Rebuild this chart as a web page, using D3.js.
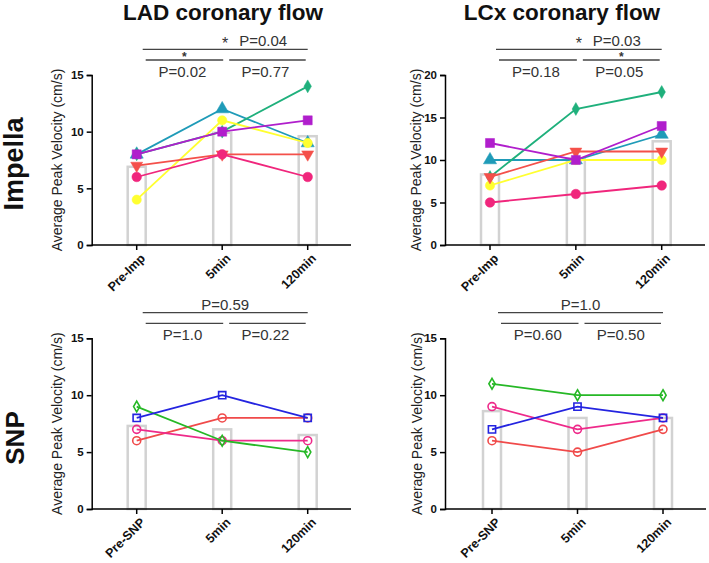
<!DOCTYPE html>
<html>
<head>
<meta charset="utf-8">
<script src="https://cdn.jsdelivr.net/npm/d3@7"></script>
<style>
  body { margin: 0; background: #fff; }
  svg { display: block; font-family: "Liberation Sans", Arial, sans-serif; }
</style>
</head>
<body>
<svg id="chart" width="709" height="563"></svg>
<script>
// ---- data ----
const impCategories = ['Pre-Imp', '5min', '120min'];
const snpCategories = ['Pre-SNP', '5min', '120min'];

// LAD, Impella
const ladImpTeal   = [8, 12, 9];
const ladImpGreen  = [8, 10, 14];
const ladImpYellow = [4, 11, 9];
const ladImpRed    = [7, 8, 8];
const ladImpPink   = [6, 8, 6];
const ladImpPurple = [8, 10, 11];
const ladImpMean   = [6.9, 9.9, 9.6];

// LCx, Impella
const lcxImpTeal   = [10, 10, 13];
const lcxImpGreen  = [8, 16, 18];
const lcxImpYellow = [7, 10, 10];
const lcxImpRed    = [8, 11, 11];
const lcxImpPink   = [5, 6, 7];
const lcxImpPurple = [12, 10, 14];
const lcxImpMean   = [8.3, 10.2, 12.2];

// LAD, SNP
const ladSnpBlue  = [8, 10, 8];
const ladSnpGreen = [9, 6, 5];
const ladSnpRed   = [6, 8, 8];
const ladSnpPink  = [7, 6, 6];
const ladSnpMean  = [7.3, 7.0, 6.5];

// LCx, SNP
const lcxSnpGreen = [11, 10, 10];
const lcxSnpBlue  = [7, 9, 8];
const lcxSnpPink  = [9, 7, 8];
const lcxSnpRed   = [6, 5, 7];
const lcxSnpMean  = [8.6, 8.0, 8.0];

// comparison brackets: from/to category index, row 0 = top
const ladImpStats = [
  { a: 0, b: 2, row: 0, p: 'P=0.04', star: true },
  { a: 0, b: 1, row: 1, p: 'P=0.02', star: true },
  { a: 1, b: 2, row: 1, p: 'P=0.77', star: false }
];
const lcxImpStats = [
  { a: 0, b: 2, row: 0, p: 'P=0.03', star: true },
  { a: 0, b: 1, row: 1, p: 'P=0.18', star: false },
  { a: 1, b: 2, row: 1, p: 'P=0.05', star: true }
];
const ladSnpStats = [
  { a: 0, b: 2, row: 0, p: 'P=0.59', star: false },
  { a: 0, b: 1, row: 1, p: 'P=1.0', star: false },
  { a: 1, b: 2, row: 1, p: 'P=0.22', star: false }
];
const lcxSnpStats = [
  { a: 0, b: 2, row: 0, p: 'P=1.0', star: false },
  { a: 0, b: 1, row: 1, p: 'P=0.60', star: false },
  { a: 1, b: 2, row: 1, p: 'P=0.50', star: false }
];

const C = {
  teal: '#1f9bb8', green: '#1fb07c', yellow: '#ffff30', red: '#f4504a',
  pink: '#f0267c', purple: '#b01ecc',
  sBlue: '#2424e0', sGreen: '#26b826', sRed: '#f04a4a', sPink: '#ee2a8a'
};

const svg = d3.select('#chart');

function drawPanel(cfg) {
  const g = svg.append('g');
  const y = d3.scaleLinear().domain([0, cfg.yMax]).range([cfg.bottom, cfg.top]);
  const x = d3.scalePoint().domain(cfg.categories).range([cfg.first, cfg.last]);

  // mean bars (outline)
  g.selectAll('rect.bar')
    .data(cfg.mean)
    .enter().append('rect')
    .attr('class', 'bar')
    .attr('x', (d, i) => x(cfg.categories[i]) - 9)
    .attr('y', d => y(d))
    .attr('width', 18)
    .attr('height', d => cfg.bottom - y(d))
    .attr('fill', '#fff')
    .attr('stroke', '#d2d2d2')
    .attr('stroke-width', 2.5);

  // y axis
  const yAxis = d3.axisLeft(y).tickValues(d3.range(0, cfg.yMax + 1, 5)).tickSize(5).tickPadding(3);
  const ya = g.append('g').attr('transform', `translate(${cfg.left},0)`).call(yAxis);
  ya.select('.domain').attr('stroke', '#000').attr('stroke-width', 1.5);
  ya.selectAll('.tick line').attr('stroke', '#000').attr('stroke-width', 1.5);
  ya.selectAll('.tick text').attr('font-size', 11.5).attr('font-weight', 'bold').attr('fill', '#111');

  // x axis
  g.append('line')
    .attr('x1', cfg.left).attr('x2', cfg.axisEnd)
    .attr('y1', cfg.bottom).attr('y2', cfg.bottom)
    .attr('stroke', '#000').attr('stroke-width', 1.5);
  g.selectAll('line.xtick')
    .data(cfg.categories)
    .enter().append('line')
    .attr('class', 'xtick')
    .attr('x1', d => x(d)).attr('x2', d => x(d))
    .attr('y1', cfg.bottom).attr('y2', cfg.bottom + 5)
    .attr('stroke', '#000').attr('stroke-width', 1.5);
  g.selectAll('text.xlab')
    .data(cfg.categories)
    .enter().append('text')
    .attr('class', 'xlab')
    .attr('transform', d => `translate(${x(d) + 6},${cfg.bottom + 11}) rotate(-45)`)
    .attr('text-anchor', 'end')
    .attr('dy', '0.35em')
    .attr('font-size', 12.5)
    .attr('font-weight', 'bold')
    .attr('fill', '#111')
    .text(d => d);

  // y label
  g.append('text')
    .attr('transform', `translate(${cfg.labelX},${(cfg.top + cfg.bottom) / 2}) rotate(-90)`)
    .attr('text-anchor', 'middle')
    .attr('font-size', 14)
    .attr('fill', '#222')
    .text('Average Peak Velocity (cm/s)');

  // series
  const line = d3.line().x((d, i) => x(cfg.categories[i])).y(d => y(d));
  cfg.series.forEach(s => {
    g.append('path')
      .datum(s.values)
      .attr('d', line)
      .attr('fill', 'none')
      .attr('stroke', s.color)
      .attr('stroke-width', 1.8);
    g.selectAll(null)
      .data(s.values)
      .enter().append('path')
      .attr('d', d3.symbol().type(s.shape).size(s.size))
      .attr('transform', (d, i) => `translate(${x(cfg.categories[i])},${y(d)})${s.flip ? ' rotate(180)' : ''}`)
      .attr('fill', s.open ? '#fff' : s.color)
      .attr('fill-opacity', s.open ? 0 : 1)
      .attr('stroke', s.color)
      .attr('stroke-width', s.open ? 1.6 : 0.5);
  });

  // brackets
  const rowY = [cfg.top - 25.7, cfg.top - 15];
  cfg.stats.forEach(st => {
    let x1, x2;
    if (st.row === 0) { x1 = x(cfg.categories[st.a]) + 6; x2 = x(cfg.categories[st.b]); }
    else if (st.a === 0) { x1 = x(cfg.categories[st.a]) + 9; x2 = x(cfg.categories[st.b]) + 1; }
    else { x1 = x(cfg.categories[st.a]) + 7; x2 = x(cfg.categories[st.b]) - 2; }
    const ly = rowY[st.row];
    const cx = (x1 + x2) / 2;
    g.append('line')
      .attr('x1', x1).attr('x2', x2).attr('y1', ly).attr('y2', ly)
      .attr('stroke', '#444').attr('stroke-width', 1.3);
    if (st.row === 0) {
      if (st.star) {
        g.append('text').attr('x', cx).attr('y', ly).attr('text-anchor', 'middle')
          .attr('font-size', 16).attr('fill', '#333').text('*');
        g.append('text').attr('x', cx + 14).attr('y', ly - 3.3).attr('text-anchor', 'start')
          .attr('font-size', 15).attr('fill', '#333').text(st.p);
      } else {
        g.append('text').attr('x', cx).attr('y', ly - 3).attr('text-anchor', 'middle')
          .attr('font-size', 15).attr('fill', '#333').text(st.p);
      }
    } else {
      if (st.star) {
        g.append('text').attr('x', cx).attr('y', ly + 0.6).attr('text-anchor', 'middle')
          .attr('font-size', 12).attr('font-weight', 'bold').attr('fill', '#333').text('*');
      }
      g.append('text').attr('x', cx - 2).attr('y', ly + 16.8).attr('text-anchor', 'middle')
        .attr('font-size', 15).attr('fill', '#333').text(st.p);
    }
  });
}

const sq = d3.symbolSquare, tri = d3.symbolTriangle, dia = d3.symbolDiamond, cir = d3.symbolCircle;

function impSeries(teal, green, yellow, red, pink, purple) {
  return [
    { values: teal, color: C.teal, shape: tri, size: 75 },
    { values: green, color: C.green, shape: dia, size: 48 },
    { values: yellow, color: C.yellow, shape: cir, size: 68 },
    { values: red, color: C.red, shape: tri, size: 62, flip: true },
    { values: pink, color: C.pink, shape: cir, size: 72 },
    { values: purple, color: C.purple, shape: sq, size: 82 }
  ];
}

drawPanel({
  left: 91.7, top: 75, bottom: 245, first: 136.7, last: 307.7, axisEnd: 351, yMax: 15, labelX: 62,
  categories: impCategories, mean: ladImpMean, stats: ladImpStats,
  series: impSeries(ladImpTeal, ladImpGreen, ladImpYellow, ladImpRed, ladImpPink, ladImpPurple)
});
drawPanel({
  left: 445, top: 75, bottom: 245, first: 490, last: 661.7, axisEnd: 705, yMax: 20, labelX: 421,
  categories: impCategories, mean: lcxImpMean, stats: lcxImpStats,
  series: impSeries(lcxImpTeal, lcxImpGreen, lcxImpYellow, lcxImpRed, lcxImpPink, lcxImpPurple)
});
drawPanel({
  left: 91.7, top: 338.3, bottom: 509, first: 136.7, last: 307.7, axisEnd: 351, yMax: 15, labelX: 62,
  categories: snpCategories, mean: ladSnpMean, stats: ladSnpStats,
  series: [
    { values: ladSnpRed, color: C.sRed, shape: cir, size: 50, open: true },
    { values: ladSnpPink, color: C.sPink, shape: cir, size: 50, open: true },
    { values: ladSnpGreen, color: C.sGreen, shape: dia, size: 34, open: true },
    { values: ladSnpBlue, color: C.sBlue, shape: sq, size: 52, open: true }
  ]
});
drawPanel({
  left: 445, top: 338.3, bottom: 509, first: 492, last: 663, axisEnd: 706, yMax: 15, labelX: 422,
  categories: snpCategories, mean: lcxSnpMean, stats: lcxSnpStats,
  series: [
    { values: lcxSnpRed, color: C.sRed, shape: cir, size: 50, open: true },
    { values: lcxSnpPink, color: C.sPink, shape: cir, size: 50, open: true },
    { values: lcxSnpBlue, color: C.sBlue, shape: sq, size: 52, open: true },
    { values: lcxSnpGreen, color: C.sGreen, shape: dia, size: 34, open: true }
  ]
});

// titles and row labels
svg.append('text').attr('x', 223).attr('y', 20).attr('text-anchor', 'middle')
  .attr('font-size', 22.5).attr('font-weight', 'bold').attr('fill', '#111').text('LAD coronary flow');
svg.append('text').attr('x', 562).attr('y', 20).attr('text-anchor', 'middle')
  .attr('font-size', 22.5).attr('font-weight', 'bold').attr('fill', '#111').text('LCx coronary flow');
svg.append('text').attr('transform', 'translate(23,164) rotate(-90)').attr('text-anchor', 'middle')
  .attr('font-size', 27).attr('font-weight', 'bold').attr('fill', '#111').text('Impella');
svg.append('text').attr('transform', 'translate(24,438) rotate(-90)').attr('text-anchor', 'middle')
  .attr('font-size', 26).attr('font-weight', 'bold').attr('fill', '#111').text('SNP');
</script>
</body>
</html>
